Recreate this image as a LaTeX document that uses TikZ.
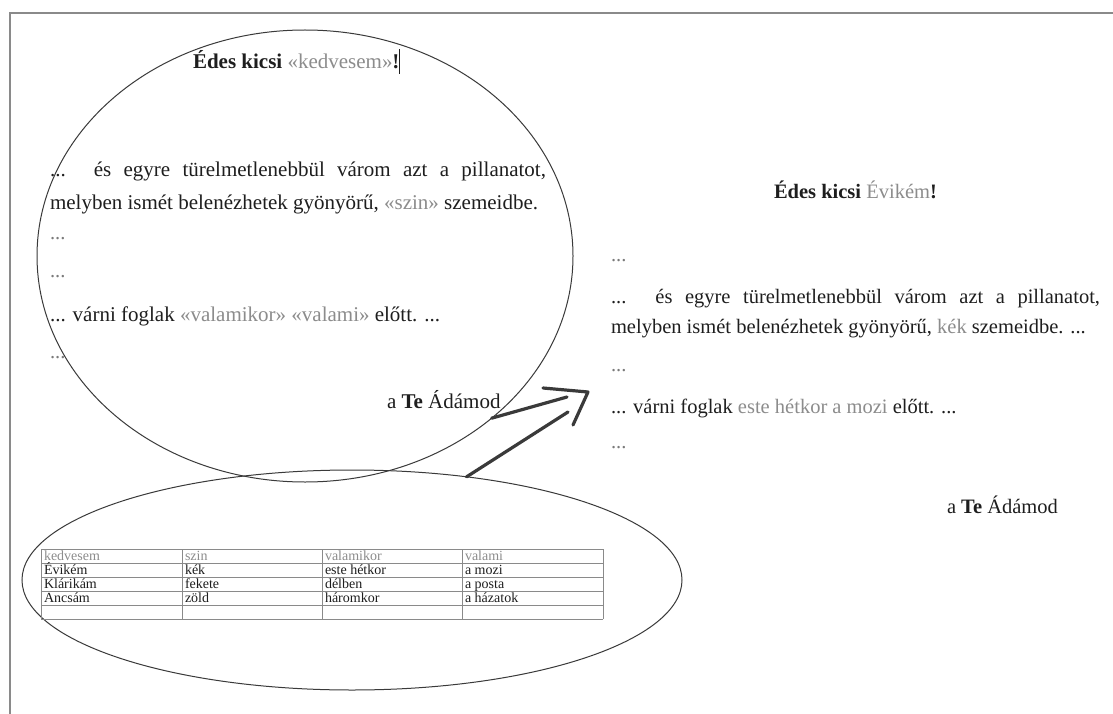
\documentclass[tikz,border=0pt]{standalone}
\usepackage{fontspec}
\setmainfont{Liberation Serif}
\usetikzlibrary{shapes.geometric}
\definecolor{ink}{HTML}{1E1E1E}
\definecolor{field}{HTML}{8C8C8C}
\definecolor{dots}{HTML}{7A7A7A}
\definecolor{edge}{HTML}{3A3A3A}
\definecolor{gridc}{HTML}{8A8A8A}
\definecolor{framec}{HTML}{8A8A8A}
\newcommand{\fld}[1]{\textcolor{field}{#1}}
\begin{document}
\begin{tikzpicture}[x=1pt,y=-1pt,
  txt/.style={anchor=base west, inner sep=0pt, outer sep=0pt, text=ink, font=\fontsize{20.5}{24}\selectfont},
  ltxt/.style={txt, font=\fontsize{21}{24}\selectfont},
  dotline/.style={txt, text=dots},
  oval/.style={draw=edge, line width=1pt, ellipse, inner sep=0pt, outer sep=0pt},
  cell/.style={anchor=base west, inner sep=0pt, outer sep=0pt, text=ink, font=\fontsize{14}{16}\selectfont},
  hcell/.style={cell, text=field},
  pen/.style={draw=edge, line width=3.2pt, line cap=round, line join=round},
  gridline/.style={draw=gridc, line width=0.8pt}
]
\useasboundingbox (0,0) rectangle (1113,714);
\fill[white] (0,0) rectangle (1113,714);
\draw[framec, line width=1.6pt] (10,714) -- (10,13) -- (1113,13);

% ellipses
\node[oval, minimum width=536pt, minimum height=452pt] (letter) at (305,256) {};
\node[oval, minimum width=660pt, minimum height=220pt] (data) at (352,580) {};

% template letter
\node[ltxt] (t1) at (193,69) {\textbf{Édes kicsi} \fld{«kedvesem»}\textbf{!}\rule[-5pt]{0.9pt}{25pt}};
\node[ltxt] (l1) at (50,177) {\makebox[496pt][s]{... és egyre türelmetlenebbül várom azt a pillanatot,}};
\node[ltxt] (l2) at (50,209) {melyben ismét belenézhetek gyönyörű, \fld{«szin»} szemeidbe.};
\node[dotline] (l3) at (50,239) {...};
\node[dotline] (l4) at (50,277) {...};
\node[ltxt] (l5) at (50,321) {... várni foglak \fld{«valamikor» «valami»} előtt. ...};
\node[dotline] (l6) at (50,358) {...};
\node[ltxt] (l7) at (387,408) {a \textbf{Te} Ádámod};

% merged letter
\node[txt] (r0) at (774,199) {\textbf{Édes kicsi} \fld{Évikém}\textbf{!}};
\node[dotline] (r1) at (611,261) {...};
\node[txt] (r2) at (611,303) {\makebox[489pt][s]{... és egyre türelmetlenebbül várom azt a pillanatot,}};
\node[txt] (r3) at (611,333) {melyben ismét belenézhetek gyönyörű, \fld{kék} szemeidbe. ...};
\node[dotline] (r4) at (611,371) {...};
\node[txt] (r5) at (611,413) {... várni foglak \fld{este hétkor a mozi} előtt. ...};
\node[dotline] (r6) at (611,448) {...};
\node[txt] (r7) at (947,513) {a \textbf{Te} Ádámod};

% data table
\foreach \y in {549,563,577,591,605,619} \draw[gridline] (41,\y) -- (603,\y);
\foreach \x in {41,182,322,462,603} \draw[gridline] (\x,549) -- (\x,619);
\node[hcell] (h1) at (44,560) {kedvesem};
\node[hcell] (h2) at (185,560) {szin};
\node[hcell] (h3) at (325,560) {valamikor};
\node[hcell] (h4) at (465,560) {valami};
\node[cell] (a1) at (44,574) {Évikém};
\node[cell] (a2) at (185,574) {kék};
\node[cell] (a3) at (325,574) {este hétkor};
\node[cell] (a4) at (465,574) {a mozi};
\node[cell] (b1) at (44,588) {Klárikám};
\node[cell] (b2) at (185,588) {fekete};
\node[cell] (b3) at (325,588) {délben};
\node[cell] (b4) at (465,588) {a posta};
\node[cell] (c1) at (44,602) {Ancsám};
\node[cell] (c2) at (185,602) {zöld};
\node[cell] (c3) at (325,602) {háromkor};
\node[cell] (c4) at (465,602) {a házatok};

% hand-drawn arrow
\coordinate (s1) at (567,397);
\coordinate (s2) at (568,412);
\coordinate (hA) at (543,388);
\coordinate (tip) at (588,392);
\coordinate (hB) at (573,425);
\draw[pen] (letter.-41) -- (s1);
\draw[pen] (data.42.6) -- (s2);
\draw[pen] (hA) -- (tip) -- (hB);
\end{tikzpicture}
\end{document}
